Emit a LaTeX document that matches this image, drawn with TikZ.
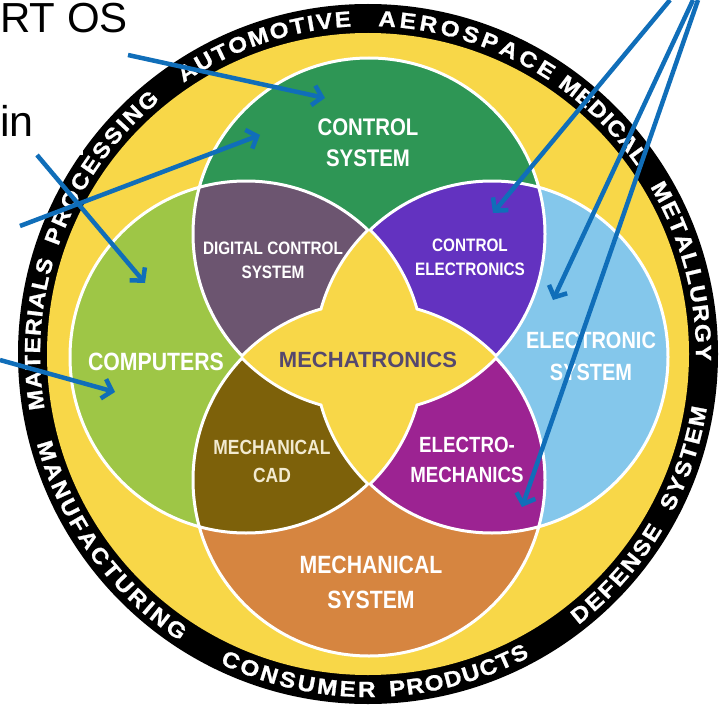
\documentclass[tikz,border=0pt]{standalone}
\usepackage{fontspec}
\setmainfont{Liberation Sans}
\newfontfamily\labfont{Liberation Sans}[FakeStretch=0.85]
\newfontfamily\ringfont{Liberation Sans}[BoldFeatures={FakeBold=1.0}]
\usetikzlibrary{arrows.meta}
\definecolor{ringyellow}{RGB}{248,215,72}
\definecolor{cgreen}{RGB}{46,150,85}
\definecolor{lgreen}{RGB}{158,198,70}
\definecolor{lblue}{RGB}{132,199,235}
\definecolor{orangec}{RGB}{214,133,64}
\definecolor{dcsc}{RGB}{108,85,112}
\definecolor{cec}{RGB}{99,50,192}
\definecolor{emc}{RGB}{156,35,146}
\definecolor{cadc}{RGB}{125,97,10}
\definecolor{mtext}{RGB}{85,72,110}
\definecolor{arrowblue}{RGB}{16,110,185}
\definecolor{cream}{RGB}{242,234,208}
\newsavebox\rbox
\def\rmid{335.5}
\def\rsx{1.10}
\newcommand\ringsize{\ringfont\bfseries\fontsize{22}{22}\selectfont}
\newcommand\lf[2]{\labfont\bfseries\fontsize{#1}{#2}\selectfont}
\newcommand\arcword[4]{%
  \xdef\awtot{0}\xdef\awn{0}\xdef\awfirst{0}\xdef\awlast{0}%
  \foreach \ch in {#3}{%
    \pgfmathsetmacro\awwid{\csname rw\ch\endcsname*\rsx}%
    \pgfmathsetmacro\awtmp{\awtot+\awwid}\xdef\awtot{\awtmp}%
    \pgfmathtruncatemacro\awtmpn{\awn+1}\xdef\awn{\awtmpn}%
    \ifnum\awn=1 \xdef\awfirst{\awwid}\fi
    \xdef\awlast{\awwid}%
  }%
  \pgfmathsetmacro\awdir{(#2>#1) ? 1 : -1}%
  \pgfmathsetmacro\awspan{abs(#2-(#1))*pi/180*\rmid}%
  \pgfmathsetmacro\awsp{(\awspan-(\awtot-(\awfirst+\awlast)/2))/(\awn-1)}%
  \pgfmathsetmacro\awtmp{-\awfirst/2}\xdef\awcur{\awtmp}%
  \foreach \ch [count=\kk] in {#3}{%
    \pgfmathsetmacro\awwid{\csname rw\ch\endcsname*\rsx}%
    \pgfmathsetmacro\awc{\awcur+\awwid/2}%
    \pgfmathsetmacro\awang{#1+\awdir*\awc/\rmid*180/pi}%
    \pgfmathsetmacro\awrot{\awang+\awdir*90}%
    \node[ringlet,rotate=\awrot,xscale=\rsx] (#4-\kk) at (\awang:\rmid) {\ch};%
    \pgfmathsetmacro\awtmp{\awcur+\awwid+\awsp}\xdef\awcur{\awtmp}%
  }%
}
\tikzset{
  ringlet/.style={font=\ringsize, text=white, inner sep=0pt, anchor=center},
  lab/.style={text=white, align=center, inner sep=0pt},
  blarrow/.style={draw=arrowblue, line width=4.5pt, -{Straight Barb[length=9pt,width=20pt]}},
  ring/.style={white, line width=3pt},
  starline/.style={white, line width=6pt}
}
\begin{document}%
\foreach \ch in {A,C,D,E,F,G,I,L,M,N,O,P,R,S,T,U,V,Y}{\sbox\rbox{\ringsize\ch}\expandafter\xdef\csname rw\ch\endcsname{\the\wd\rbox}}%
\begin{tikzpicture}[x=1pt,y=1pt]
\useasboundingbox (0,0) rectangle (720,-706);
\fill[white] (0,0) rectangle (720,-706);
\def\Rr{176}
\coordinate (rc) at (368,-354);
\coordinate (cN) at (369,-234);
\coordinate (cS) at (369,-480);
\coordinate (cW) at (246,-357);
\coordinate (cE) at (492,-357);
% outer ring
\fill[black] (rc) circle (350);
\fill[ringyellow] (rc) circle (321);
% base circles
\fill[cgreen] (cN) circle (\Rr);
\fill[lgreen] (cW) circle (\Rr);
\fill[lblue] (cE) circle (\Rr);
\fill[orangec] (cS) circle (\Rr);
% lenses
\begin{scope}
  \clip (cN) circle (\Rr);
  \fill[dcsc] (cW) circle (\Rr);
  \fill[cec] (cE) circle (\Rr);
\end{scope}
\begin{scope}
  \clip (cS) circle (\Rr);
  \fill[cadc] (cW) circle (\Rr);
  \fill[emc] (cE) circle (\Rr);
\end{scope}
% white outlines
\draw[ring] (cN) circle (\Rr);
\draw[ring] (cS) circle (\Rr);
\draw[ring] (cW) circle (\Rr);
\draw[ring] (cE) circle (\Rr);
% star outline
\begin{scope}\clip (cW) circle (\Rr); \draw[starline] (cE) circle (\Rr);\end{scope}
\begin{scope}\clip (cE) circle (\Rr); \draw[starline] (cW) circle (\Rr);\end{scope}
\begin{scope}\clip (cN) circle (\Rr); \draw[starline] (cS) circle (\Rr);\end{scope}
\begin{scope}\clip (cS) circle (\Rr); \draw[starline] (cN) circle (\Rr);\end{scope}
% star fill
\begin{scope}\clip (cW) circle (\Rr); \fill[ringyellow] (cE) circle (\Rr);\end{scope}
\begin{scope}\clip (cN) circle (\Rr); \fill[ringyellow] (cS) circle (\Rr);\end{scope}
% ring text
\begin{scope}[shift={(368,-354)}]
  \arcword{187.9}{164.8}{M,A,T,E,R,I,A,L,S}{wa}
  \arcword{159.4}{131.0}{P,R,O,C,E,S,S,I,N,G}{wb}
  \arcword{122.7}{94.3}{A,U,T,O,M,O,T,I,V,E}{wc}
  \arcword{86.7}{57.9}{A,E,R,O,S,P,A,C,E}{wd}
  \arcword{53.0}{36.2}{M,E,D,I,C,A,L}{we}
  \arcword{28.9}{0.2}{M,E,T,A,L,L,U,R,G,Y}{wf}
  \arcword{196.8}{235.2}{M,A,N,U,F,A,C,T,U,R,I,N,G}{wg}
  \arcword{245.9}{269.8}{C,O,N,S,U,M,E,R}{wh}
  \arcword{275.0}{296.8}{P,R,O,D,U,C,T,S}{wi}
  \arcword{309.3}{327.8}{D,E,F,E,N,S,E}{wj}
  \arcword{333.9}{349.3}{S,Y,S,T,E,M}{wk}
\end{scope}
% labels
\node[lab, font={\lf{24}{31}}] (ctrl) at (368,-142.5) {CONTROL\\SYSTEM};
\node[lab, font={\lf{25}{30}}] (comp) at (156,-362) {COMPUTERS};
\node[lab, font={\lf{23.5}{32}}] (elec) at (591,-356) {ELECTRONIC\\SYSTEM};
\node[lab, font={\lf{25}{35}}] (mech) at (371,-582.5) {MECHANICAL\\SYSTEM};
\node[lab, font={\lf{18}{24}}] (dcs) at (273,-260) {DIGITAL CONTROL\\SYSTEM};
\node[lab, font={\lf{18}{24}}] (ce) at (470,-257) {CONTROL\\ELECTRONICS};
\node[lab, text=mtext, font={\bfseries\fontsize{22}{26}\selectfont}] (mtr) at (368,-360) {MECHATRONICS};
\node[lab, text=cream, font={\lf{20.5}{28}}] (cad) at (272,-461) {MECHANICAL\\CAD};
\node[lab, font={\lf{22}{30}}] (em) at (467,-460) {ELECTRO-\\MECHANICS};
% white box of slide text
\fill[white] (0,0) rectangle (83,-155);
\node[anchor=base east, inner sep=0pt, font=\fontsize{42}{48}\selectfont] (rtos) at (128,-33) {RT OS};
\node[anchor=base west, inner sep=0pt, font=\fontsize{43}{48}\selectfont] (inw) at (0,-137) {in};
% arrows
\coordinate (a1s) at (128,-55);  \coordinate (a1e) at (325,-98);
\coordinate (a2s) at (20,-226);  \coordinate (a2e) at (260,-135);
\coordinate (a3s) at (37,-155);  \coordinate (a3e) at (145,-283);
\coordinate (a4s) at (0,-360);   \coordinate (a4e) at (115,-392);
\coordinate (a5s) at (670,0);    \coordinate (a5e) at (493,-213);
\coordinate (a6s) at (693,0);    \coordinate (a6e) at (553,-300);
\coordinate (a7s) at (698,0);    \coordinate (a7e) at (522,-507);
\draw[blarrow] (a1s) -- (a1e);
\draw[blarrow] (a2s) -- (a2e);
\draw[blarrow] (a3s) -- (a3e);
\draw[blarrow] (a4s) -- (a4e);
\draw[blarrow] (a5s) -- (a5e);
\draw[blarrow] (a6s) -- (a6e);
\draw[blarrow] (a7s) -- (a7e);
\end{tikzpicture}
\end{document}
